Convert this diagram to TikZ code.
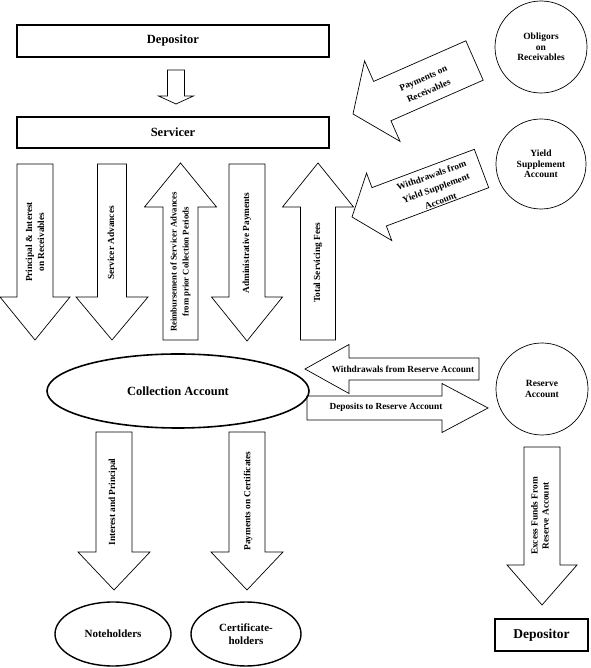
\documentclass[tikz,border=0pt]{standalone}
\usepackage{fontspec}
\setmainfont{Liberation Serif}
\usetikzlibrary{shapes.geometric,calc}

% block arrow from tail #1 to tip #2: shaft half width, head half width, head length
\newcommand{\blockarrow}[5]{%
  \coordinate (#1-h) at ($(#2)!#5!(#1)$);
  \draw[flow] ($(#1)!#3!90:(#2)$) -- ($(#1-h)!#3!90:(#2)$) -- ($(#1-h)!#4!90:(#2)$) -- (#2)
    -- ($(#1-h)!#4!-90:(#2)$) -- ($(#1-h)!#3!-90:(#2)$) -- ($(#1)!#3!-90:(#2)$) -- cycle;
}

\begin{document}
\begin{tikzpicture}[
    x=1pt, y=1pt,
    every node/.style={inner sep=0pt, align=center},
    party/.style={draw, rectangle, line width=1.1pt, font=\bfseries\fontsize{12.5}{14}\selectfont},
    fund/.style={draw, circle, line width=0.7pt, minimum size=92pt, font=\bfseries\fontsize{9.5}{10.5}\selectfont},
    holder/.style={draw, ellipse, line width=1.4pt, font=\bfseries\fontsize{11}{12.5}\selectfont},
    flow/.style={draw, line width=0.7pt, line join=miter},
    flowtext/.style={font=\bfseries\fontsize{9.3}{12}\selectfont},
    slanttext/.style={font=\bfseries\fontsize{9.3}{13.5}\selectfont}
]
    \useasboundingbox (0,0) rectangle (590,668);

    % parties and accounts
    \node [party, minimum width=312pt, minimum height=32pt] (dep) at (173,627) {Depositor};
    \node [party, minimum width=312pt, minimum height=31pt] (serv) at (173,535.5) {Servicer};
    \node [fund] (obl) at (541,621) {Obligors\\on\\Receivables};
    \node [fund, minimum size=90pt] (yld) at (541,504) {Yield\\Supplement\\Account};
    \node [fund] (res) at (542,279) {Reserve\\Account};
    \node [holder, minimum width=262pt, minimum height=74pt, line width=1.6pt,
           font=\bfseries\fontsize{12.5}{14}\selectfont] (coll) at (178,277) {Collection Account};
    \node [holder, minimum width=116pt, minimum height=64pt] (note) at (113,34) {Noteholders};
    \node [holder, minimum width=110pt, minimum height=64pt] (cert) at (246,34) {Certificate-\\holders};
    \node [party, minimum width=93pt, minimum height=32pt, font=\bfseries\fontsize{13.5}{15}\selectfont] (dep2) at (541.5,33) {Depositor};

    % arrow ends
    \coordinate (dsT) at (176,598);   \coordinate (dsP) at (176,564);
    \coordinate (payT) at (474.5,607.5); \coordinate (payP) at (353,554);
    \coordinate (ywT) at (481.5,499.5); \coordinate (ywP) at (352,451);
    \coordinate (piT) at (35,504);    \coordinate (piP) at (35,328);
    \coordinate (saT) at (112,504);   \coordinate (saP) at (112,328);
    \coordinate (rbT) at (180.5,328); \coordinate (rbP) at (180.5,505);
    \coordinate (adT) at (247,504);   \coordinate (adP) at (247,327);
    \coordinate (tsT) at (318,328);   \coordinate (tsP) at (318,505);
    \coordinate (wrT) at (479,299);   \coordinate (wrP) at (305,299);
    \coordinate (drT) at (307,260);   \coordinate (drP) at (488,260);
    \coordinate (ipT) at (114,236);   \coordinate (ipP) at (114,78);
    \coordinate (pcT) at (247,236);   \coordinate (pcP) at (247,78);
    \coordinate (exT) at (542,221);   \coordinate (exP) at (542,63);

    % block arrows
    \blockarrow{dsT}{dsP}{8.5pt}{17.5pt}{8pt}
    \blockarrow{payT}{payP}{21.5pt}{44pt}{32pt}
    \blockarrow{ywT}{ywP}{20.5pt}{36pt}{29pt}
    \blockarrow{piT}{piP}{18pt}{35pt}{43pt}
    \blockarrow{saT}{saP}{14.5pt}{36pt}{43pt}
    \blockarrow{rbT}{rbP}{17.5pt}{36pt}{44pt}
    \blockarrow{adT}{adP}{18pt}{35.5pt}{44pt}
    \blockarrow{tsT}{tsP}{17.5pt}{35.5pt}{44pt}
    \blockarrow{wrT}{wrP}{11pt}{24.5pt}{44pt}
    \blockarrow{drT}{drP}{12pt}{24.5pt}{46pt}
    \blockarrow{ipT}{ipP}{18pt}{36pt}{38pt}
    \blockarrow{pcT}{pcP}{18pt}{36pt}{38pt}
    \blockarrow{exT}{exP}{18pt}{35pt}{40pt}

    % arrow labels
    \node [slanttext, rotate=23.4] (payL) at (426,583.5) {Payments on\\Receivables};
    \node [slanttext, rotate=20] (ywL) at (436,480) {Withdrawals from\\Yield Supplement\\Account};
    \node [flowtext, rotate=90] (piL) at (35,426) {Principal \& Interest\\on Receivables};
    \node [flowtext, rotate=90] (saL) at (111,425) {Servicer Advances};
    \node [flowtext, rotate=90, font=\bfseries\fontsize{8.7}{12}\selectfont] (rbL) at (180.5,406)
        {Reimbursement of Servicer Advances\\from prior Collection Periods};
    \node [flowtext, rotate=90] (adL) at (247,425) {Administrative Payments};
    \node [flowtext, rotate=90] (tsL) at (318,405) {Total Servicing Fees};
    \node [flowtext] (wrL) at (403,299) {Withdrawals from Reserve Account};
    \node [flowtext] (drL) at (386,261) {Deposits to Reserve Account};
    \node [flowtext, rotate=90] (ipL) at (113,166) {Interest and Principal};
    \node [flowtext, rotate=90] (pcL) at (248,167) {Payments on Certificates};
    \node [flowtext, rotate=90, font=\bfseries\fontsize{9.3}{11}\selectfont] (exL) at (540,152)
        {Excess Funds From\\Reserve Account};
\end{tikzpicture}
\end{document}
